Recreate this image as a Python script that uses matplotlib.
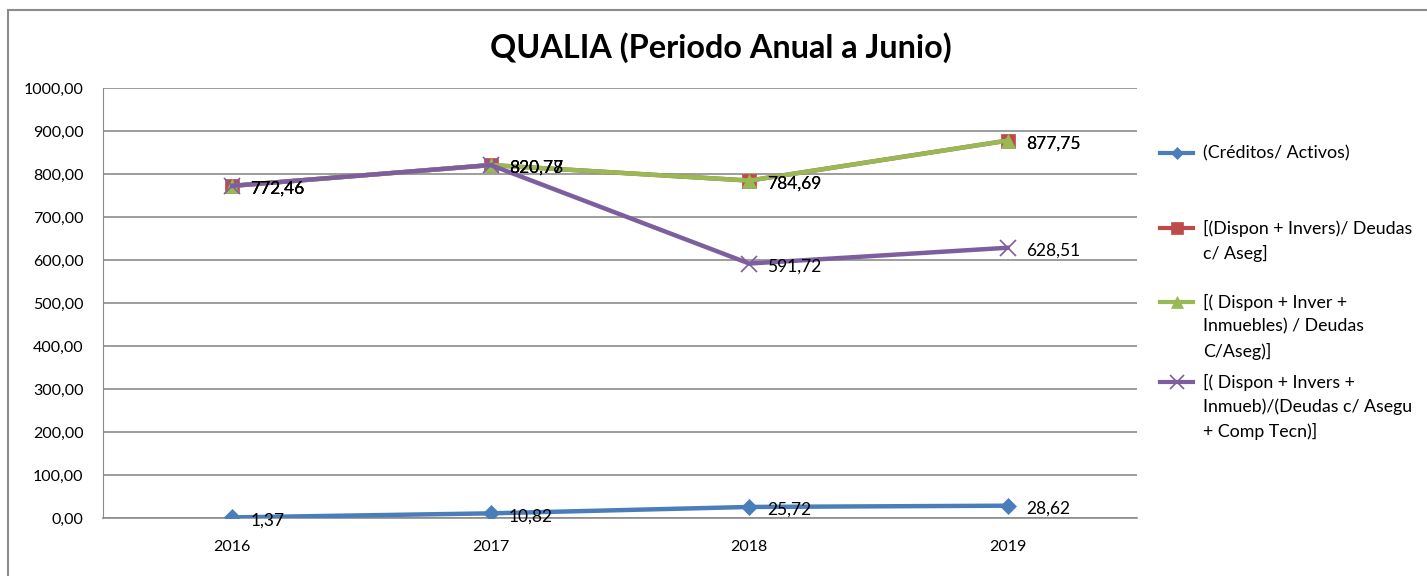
import matplotlib
matplotlib.use("Agg")
import matplotlib.pyplot as plt
from matplotlib.lines import Line2D
from matplotlib.patches import Rectangle

years = ["2016", "2017", "2018", "2019"]
creditos = [1.37, 10.82, 25.72, 28.62]
dispon_invers = [772.46, 820.77, 784.69, 877.75]
dispon_inver_inm = [772.46, 820.77, 784.69, 877.75]
dispon_inm_comp = [772.46, 820.78, 591.72, 628.51]
yticks = [0, 100, 200, 300, 400, 500, 600, 700, 800, 900, 1000]

series_labels = [
    "(Créditos/ Activos)",
    "[(Dispon + Invers)/ Deudas\nc/ Aseg]",
    "[( Dispon + Inver +\nInmuebles) / Deudas\nC/Aseg)]",
    "[( Dispon + Invers +\nInmueb)/(Deudas c/ Asegu\n+ Comp Tecn)]",
]

plt.rcParams['font.family'] = ['Lato', 'DejaVu Sans']

W, H = 1427, 576
fig = plt.figure(figsize=(W / 100, H / 100), dpi=100)

# outer chart border
fig.add_artist(Rectangle((8 / W, -0.1), 1.2, 1 - 10 / H + 0.1, transform=fig.transFigure,
                         fill=False, edgecolor='#8c8c8c', linewidth=1.5))

ax = fig.add_axes([103 / W, 1 - 518 / H, (1137 - 103) / W, (518 - 88) / H])
x = list(range(len(years)))

blue = '#4a7ebb'
red = '#be4b48'
green = '#98b954'
purple = '#7d5fa0'

styles = [
    (creditos, blue, 'D', 8, series_labels[0]),
    (dispon_invers, red, 's', 10, series_labels[1]),
    (dispon_inver_inm, green, '^', 10, series_labels[2]),
    (dispon_inm_comp, purple, 'x', 12, series_labels[3]),
]
for vals, c, m, ms, lab in styles:
    ax.plot(x, vals, color=c, marker=m, markersize=ms, linewidth=3.2,
            markeredgewidth=1.2 if m == 'x' else 0.5, markeredgecolor=c, label=lab, zorder=3)

def fmt(v):
    return f"{v:.2f}".replace('.', ',')

for vals, c, m, ms, lab in styles:
    for xi, v in zip(x, vals):
        ax.annotate(fmt(v), (xi, v), xytext=(13, -2), textcoords='offset points',
                    ha='left', va='center', fontsize=12.5, color='black', zorder=4)

ax.set_xlim(-0.5, 3.5)
ax.set_ylim(0, 1000)
ax.set_yticks(yticks)
ax.set_yticklabels([fmt(v) for v in yticks], fontsize=11.5)
ax.set_xticks(x)
ax.set_xticklabels(years, fontsize=11.5)
ax.tick_params(axis='x', length=0, pad=16)
ax.tick_params(axis='y', length=0, pad=14)
ax.grid(axis='y', color='#8c8c8c', linewidth=1.2)
ax.set_axisbelow(True)
for s in ['top', 'right']:
    ax.spines[s].set_visible(False)
ax.spines['left'].set_color('#8c8c8c')
ax.spines['bottom'].set_color('#8c8c8c')
ax.spines['bottom'].set_linewidth(1.2)

fig.text(721 / W, 1 - 48 / H, "QUALIA (Periodo Anual a Junio)", ha='center', va='center',
         fontsize=23.3, fontweight='bold')

# legend drawn manually
leg_y = [153, 228, 302, 382]
for (vals, c, m, ms, lab), yy in zip(styles, leg_y):
    yf = 1 - yy / H
    fig.add_artist(Line2D([1160 / W, 1193 / W], [yf, yf], transform=fig.transFigure,
                          color=c, linewidth=3))
    fig.add_artist(Line2D([1176.5 / W], [yf], transform=fig.transFigure, color=c, marker=m,
                          markersize=ms * 0.8, markeredgecolor=c,
                          markeredgewidth=1.2 if m == 'x' else 0.5))
    fig.text(1203 / W, yf + 8 / H, lab, ha='left', va='top', fontsize=12.8,
             linespacing=1.57)

fig.savefig("out.png", dpi=100)
